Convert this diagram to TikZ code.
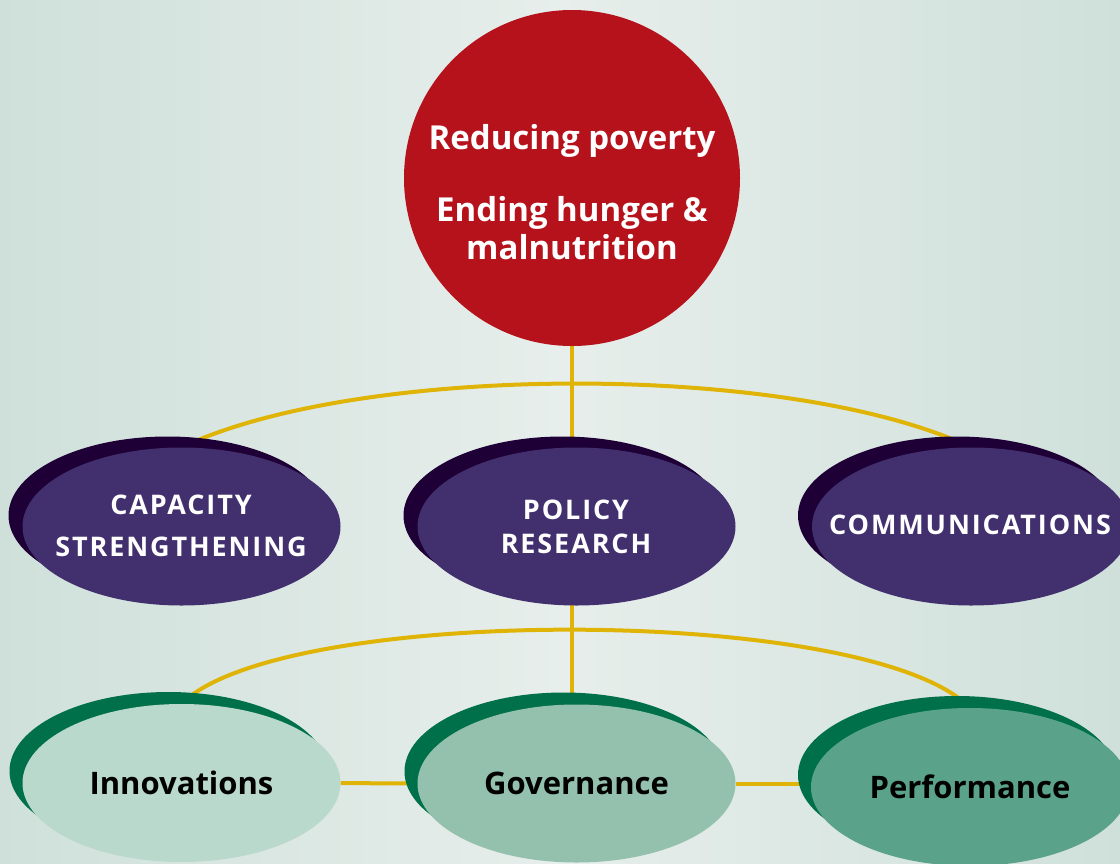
\documentclass[tikz,border=0pt]{standalone}
\usepackage{fontspec}
\setmainfont{Open Sans}
\usepackage{tikz}
\usepackage{xcolor}
\usetikzlibrary{shapes.geometric, shadows, calc}
\definecolor{goalred}{HTML}{B5121B}
\definecolor{pillarfill}{HTML}{42306E}
\definecolor{pillarshade}{HTML}{1E0036}
\definecolor{themeshade}{HTML}{00704A}
\definecolor{innovfill}{HTML}{BAD9CD}
\definecolor{govfill}{HTML}{94C1AE}
\definecolor{perffill}{HTML}{5AA38A}
\definecolor{linkgold}{HTML}{E0B406}
\definecolor{bgedge}{HTML}{CFE0DA}
\definecolor{bgmid}{HTML}{E7EEEB}
\pgfdeclarelayer{back}
\pgfdeclarelayer{links}
\pgfsetlayers{back,links,main}

\begin{document}
\begin{tikzpicture}[x=1pt, y=-1pt,
  goal/.style={circle, fill=goalred, minimum size=336pt, inner sep=0pt},
  pillar/.style={ellipse, fill=pillarfill, minimum width=318pt, minimum height=158pt, inner sep=0pt,
    general shadow={shadow xshift=-14pt, shadow yshift=11pt, fill=pillarshade}},
  theme/.style={ellipse, minimum width=318pt, minimum height=158pt, inner sep=0pt,
    general shadow={shadow xshift=-13pt, shadow yshift=12pt, fill=themeshade}},
  link/.style={draw=linkgold, line width=4pt},
  goaltxt/.style={text=white, align=center, font=\bfseries\fontsize{33}{38}\selectfont},
  pillartxt/.style={text=white, align=center, font=\bfseries\fontsize{27}{34}\selectfont\addfontfeature{LetterSpace=7}},
  themetxt/.style={text=black, anchor=base, font=\bfseries\fontsize{31}{39}\selectfont}]

  \useasboundingbox (0,0) rectangle (1120,863);
  \clip (0,0) rectangle (1120,863);

  % Background
  \begin{pgfonlayer}{back}
    \shade[left color=bgedge, right color=bgedge, middle color=bgmid] (0,0) rectangle (1120,863);
  \end{pgfonlayer}

  % Goal
  \node[goal] (red) at (572,178) {};
  \node[goaltxt] (redtxt) at (572,192) {Reducing poverty\\[34pt] Ending hunger \&\\ malnutrition};

  % Pillars
  \node[pillar] (cap) at (181.5,526.5) {};
  \node[pillar] (policy) at (576.5,526.5) {};
  \node[pillar] (comm) at (971,526.5) {};
  \node[pillartxt, font=\bfseries\fontsize{27}{42}\selectfont\addfontfeature{LetterSpace=7}] (captxt) at (181,526) {CAPACITY\\STRENGTHENING};
  \node[pillartxt] (policytxt) at (576,527) {POLICY\\RESEARCH};
  \node[pillartxt] (commtxt) at (970,525) {COMMUNICATIONS};

  % Themes
  \foreach \nm/\x/\y/\col/\txt/\base in {innov/181.5/783/innovfill/Innovations/794,
      gov/576.5/783.5/govfill/Governance/794,
      perf/970/787/perffill/Performance/798} {
    \node[theme, fill=\col] (\nm) at (\x,\y) {};
    \node[themetxt] (\nm txt) at (\x,\base) {\txt};
  }

  % Links
  \begin{pgfonlayer}{links}
    \draw[link] (red) -- (red |- gov.north);
    \draw[link] (cap.north) .. controls +(180,-85) and +(-180,-85) .. (comm.north);
    \draw[link] (innov.north) .. controls +(100,-100) and +(-100,-103) .. (perf.north);
    \draw[link] (innov) -- (gov);
    \draw[link] (gov) -- (gov -| perf);
  \end{pgfonlayer}

\end{tikzpicture}
\end{document}
